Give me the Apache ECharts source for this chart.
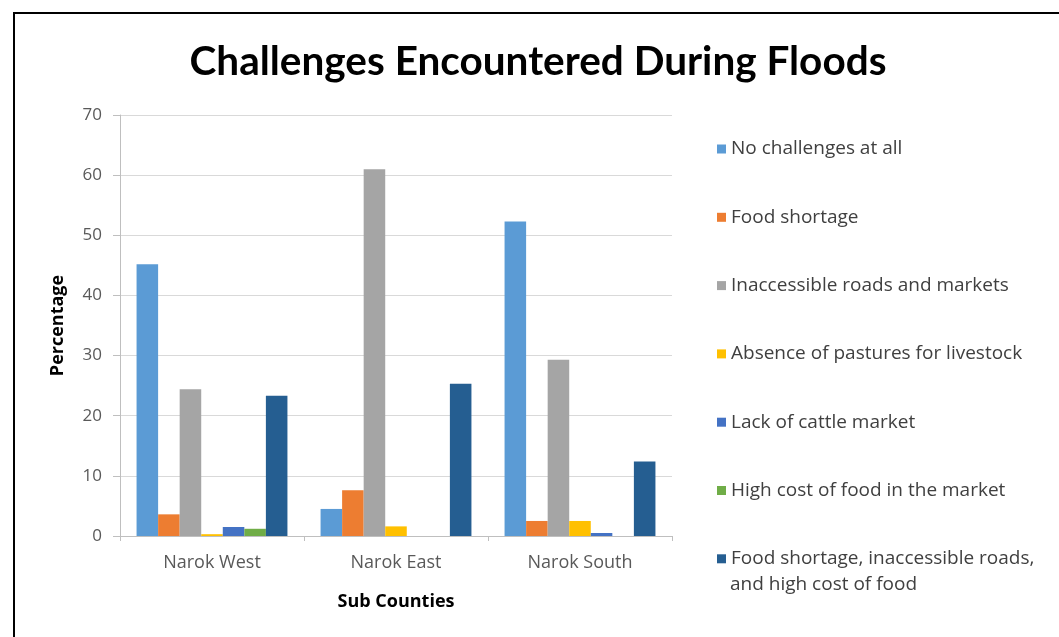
<!DOCTYPE html>
<html><head><meta charset="utf-8">
<script src="https://cdn.jsdelivr.net/npm/echarts@6/dist/echarts.min.js"></script>
<style>
html,body{margin:0;padding:0;background:#fff;}
#frame{position:absolute;left:13px;top:12px;width:1060px;height:640px;border:2px solid #000;box-sizing:border-box;}
#chart{position:absolute;left:0;top:0;width:1059px;height:637px;}
</style></head>
<body>
<div id="frame"></div>
<div id="chart"></div>
<script>
const categories = ['Narok West', 'Narok East', 'Narok South'];
const seriesNames = [
  'No challenges at all',
  'Food shortage',
  'Inaccessible roads and markets',
  'Absence of pastures for livestock',
  'Lack of cattle market',
  'High cost of food in the market',
  'Food shortage, inaccessible roads, and high cost of food'
];
const noChallenges   = [45.2, 4.5, 52.3];
const foodShortage   = [3.6, 7.6, 2.5];
const inaccessible   = [24.4, 61.0, 29.3];
const absencePasture = [0.3, 1.6, 2.5];
const lackCattle     = [1.5, 0, 0.5];
const highCost       = [1.2, 0, 0];
const combined       = [23.3, 25.3, 12.4];
const yTicks = [0, 10, 20, 30, 40, 50, 60, 70];
const colors = ['#5B9BD5', '#ED7D31', '#A5A5A5', '#FFC000', '#4472C4', '#70AD47', '#255E91'];
const values = [noChallenges, foodShortage, inaccessible, absencePasture, lackCattle, highCost, combined];

const font = '"Open Sans", sans-serif';
const chart = echarts.init(document.getElementById('chart'), null, {renderer: 'canvas'});
chart.setOption({
  animation: false,
  color: colors,
  title: {
    text: 'Challenges Encountered During Floods',
    left: 533, top: 36, textAlign: 'center',
    textStyle: {fontFamily: 'Lato, sans-serif', fontWeight: 'bold', fontSize: 40.5, color: '#000'}
  },
  legend: {
    orient: 'vertical',
    left: 712, top: 134, height: 480,
    itemWidth: 9, itemHeight: 9, itemGap: 48.3,
    icon: 'rect',
    textStyle: {fontFamily: font, fontSize: 19, color: '#404040', lineHeight: 20},
    formatter: function (n) {
      return n === seriesNames[6] ? 'Food shortage, inaccessible roads,' : n;
    },
    data: seriesNames
  },
  graphic: [{
    type: 'text', left: 730, top: 575,
    style: {text: 'and high cost of food', font: '19px "Open Sans", sans-serif', fill: '#404040'}
  }],
  grid: {left: 120, right: 387, top: 115, bottom: 101},
  xAxis: {
    type: 'category',
    data: categories,
    name: 'Sub Counties',
    nameLocation: 'middle',
    nameGap: 57,
    nameTextStyle: {fontFamily: font, fontWeight: 'bold', fontSize: 18, color: '#000'},
    axisLine: {lineStyle: {color: '#bfbfbf'}},
    axisTick: {show: true, lineStyle: {color: '#bfbfbf'}, length: 5},
    axisLabel: {fontFamily: font, fontSize: 18, color: '#595959', margin: 18}
  },
  yAxis: {
    type: 'value',
    min: 0, max: 70, interval: 10,
    name: 'Percentage',
    nameLocation: 'middle',
    nameGap: 53,
    nameTextStyle: {fontFamily: font, fontWeight: 'bold', fontSize: 18, color: '#000'},
    axisLine: {show: true, lineStyle: {color: '#bfbfbf'}},
    axisTick: {show: true, lineStyle: {color: '#bfbfbf'}, length: 7},
    splitLine: {lineStyle: {color: '#d9d9d9'}},
    axisLabel: {fontFamily: font, fontSize: 17, color: '#595959', margin: 18,
      formatter: function (v) { return yTicks.indexOf(v) >= 0 ? String(v) : ''; }}
  },
  series: seriesNames.map(function (name, i) {
    return {
      name: name, type: 'bar', data: values[i],
      barGap: '0%', barCategoryGap: '18%',
      itemStyle: {color: colors[i]}
    };
  })
});
</script>
</body></html>
